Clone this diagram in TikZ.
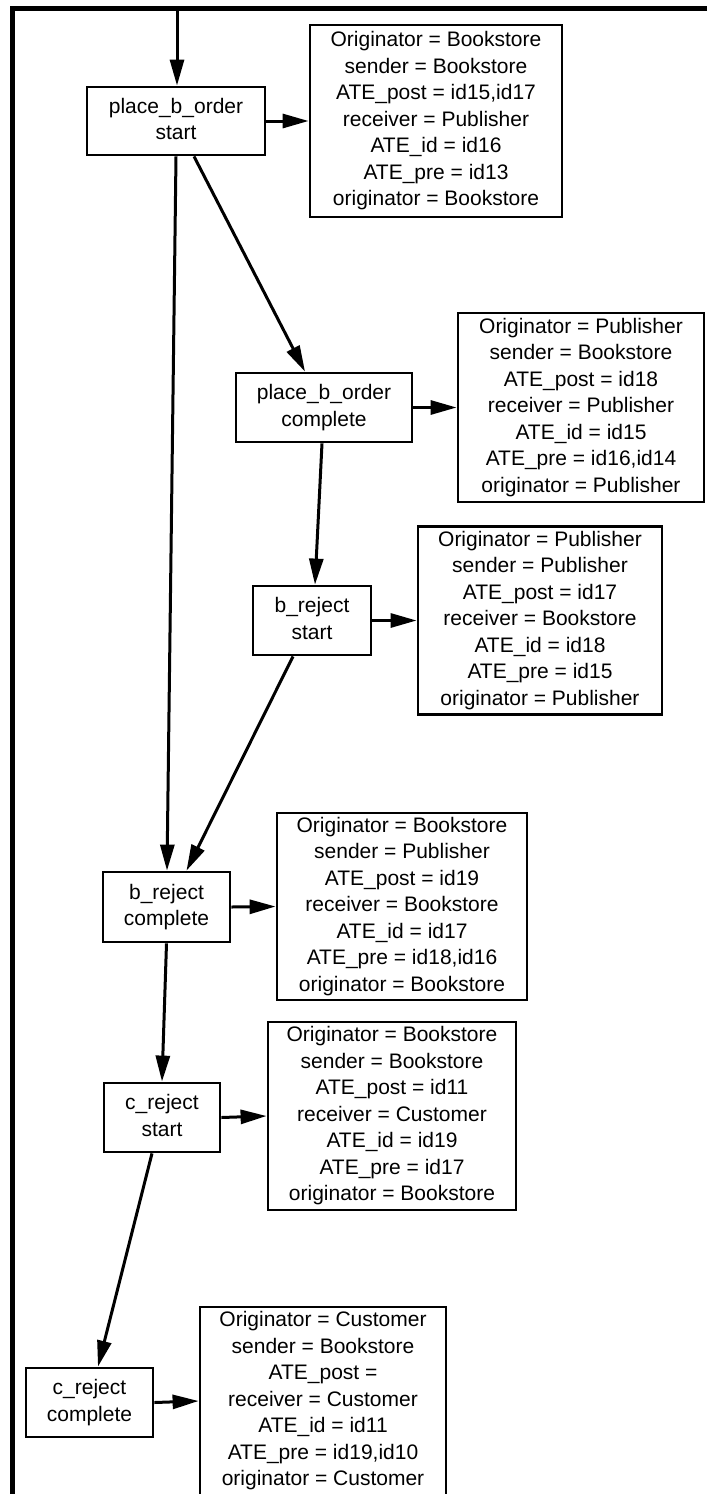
\documentclass[tikz,border=0pt]{standalone}
\usepackage{fontspec}
\setmainfont{Liberation Sans}
\usetikzlibrary{arrows.meta,calc}
\newcommand\lst{\rule[-5.5pt]{0pt}{21.5pt}}
\begin{document}
\begin{tikzpicture}[x=1pt,y=-1pt,
  box/.style={draw, line width=2.8pt, rectangle, inner sep=0pt, align=center,
    font=\fontsize{21}{26.5}\selectfont},
  edge/.style={line width=3pt, -{Triangle[length=26pt,width=14pt]}}]
\useasboundingbox (0,0) rectangle (707,1494);
% frame
\draw[line width=5pt, line join=miter] (707,8.5) -- (12.5,8.5) -- (12.5,1494);
% nodes
\node[box, minimum width=178pt, minimum height=68pt] (n1) at (176,121)
  {\lst place\_b\_order\\\lst start};
\node[box, minimum width=252pt, minimum height=192pt] (i1) at (436,121)
  {\lst Originator = Bookstore\\ sender = Bookstore\\ ATE\_post = id15,id17\\ receiver = Publisher\\ ATE\_id = id16\\ ATE\_pre = id13\\ \lst originator = Bookstore};
\node[box, minimum width=176pt, minimum height=69pt] (n2) at (324,407.5)
  {\lst place\_b\_order\\\lst complete};
\node[box, minimum width=246pt, minimum height=189pt] (i2) at (581,407.5)
  {\lst Originator = Publisher\\ sender = Bookstore\\ ATE\_post = id18\\ receiver = Publisher\\ ATE\_id = id15\\ ATE\_pre = id16,id14\\ \lst originator = Publisher};
\node[box, minimum width=118pt, minimum height=69pt] (n3) at (312,620.5)
  {\lst b\_reject\\\lst start};
\node[box, minimum width=244pt, minimum height=188pt] (i3) at (540,620.5)
  {\lst Originator = Publisher\\ sender = Publisher\\ ATE\_post = id17\\ receiver = Bookstore\\ ATE\_id = id18\\ ATE\_pre = id15\\ \lst originator = Publisher};
\node[box, minimum width=127pt, minimum height=70pt] (n4) at (166.5,907)
  {\lst b\_reject\\\lst complete};
\node[box, minimum width=250pt, minimum height=187pt] (i4) at (402,906.5)
  {\lst Originator = Bookstore\\ sender = Publisher\\ ATE\_post = id19\\ receiver = Bookstore\\ ATE\_id = id17\\ ATE\_pre = id18,id16\\ \lst originator = Bookstore};
\node[box, minimum width=116pt, minimum height=69pt] (n5) at (162,1117.5)
  {\lst c\_reject\\\lst start};
\node[box, minimum width=248pt, minimum height=188pt] (i5) at (392,1116)
  {\lst Originator = Bookstore\\ sender = Bookstore\\ ATE\_post = id11\\ receiver = Customer\\ ATE\_id = id19\\ ATE\_pre = id17\\ \lst originator = Bookstore};
\node[box, minimum width=127pt, minimum height=69pt] (n6) at (89.5,1402.5)
  {\lst c\_reject\\\lst complete};
\node[box, minimum width=246pt, minimum height=188pt] (i6) at (323,1401)
  {\lst Originator = Customer\\ sender = Bookstore\\ ATE\_post =\\ receiver = Customer\\ ATE\_id = id11\\ ATE\_pre = id19,id10\\ \lst originator = Customer};
% connectors
\coordinate (in0) at (177,11);
\draw[edge] (in0) -- ([xshift=1pt]n1.north);
\draw[edge] (n1.east) -- (i1.west);
\draw[edge] ([xshift=18pt]n1.south) -- ([xshift=-19pt]n2.north);
\draw[edge] (n1.south) -- ([xshift=0.5pt]n4.north);
\draw[edge] ([xshift=-2pt]n2.south) -- ([xshift=3pt]n3.north);
\draw[edge] (n2.east) -- (i2.west);
\draw[edge] ([xshift=-19pt]n3.south) -- ([xshift=20pt]n4.north);
\draw[edge] (n3.east) -- (i3.west);
\draw[edge] (n4.south) -- (n5.north);
\draw[edge] (n4.east) -- (i4.west);
\draw[edge] ([xshift=-10pt]n5.south) -- ([xshift=8.5pt]n6.north);
\draw[edge] (n5.east) -- (i5.west);
\draw[edge] (n6.east) -- (i6.west);
\end{tikzpicture}
\end{document}
